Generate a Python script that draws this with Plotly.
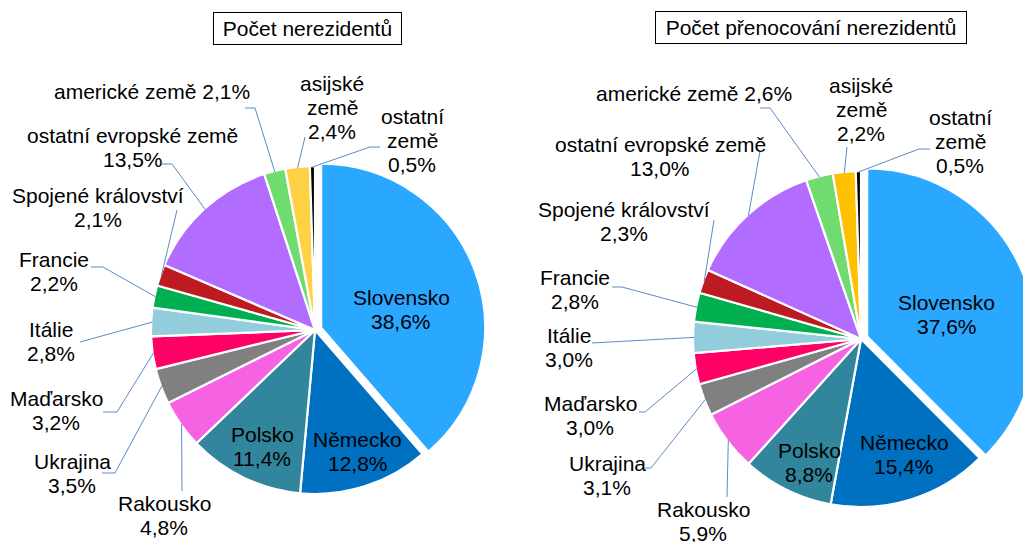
import math
import plotly.graph_objects as go

# ---------------- data ----------------
categories = ["Slovensko", "Německo", "Polsko", "Rakousko", "Ukrajina", "Maďarsko",
              "Itálie", "Francie", "Spojené království", "ostatní evropské země",
              "americké země", "asijské země", "ostatní země"]
nerezidenti = [38.6, 12.8, 11.4, 4.8, 3.5, 3.2, 2.8, 2.2, 2.1, 13.5, 2.1, 2.4, 0.5]
prenocovani = [37.6, 15.4, 8.8, 5.9, 3.1, 3.0, 3.0, 2.8, 2.3, 13.0, 2.6, 2.2, 0.5]
titles = ["Počet nerezidentů", "Počet přenocování nerezidentů"]

colors_left = ["#2AA7FE", "#0070C0", "#31859C", "#F563E2", "#808080", "#FF0066",
               "#92CDDC", "#00B050", "#BE1A22", "#B26CFF", "#70DC70", "#FFD246", "#000000"]
colors_right = ["#2AA7FE", "#0070C0", "#31859C", "#F563E2", "#808080", "#FF0066",
                "#92CDDC", "#00B050", "#BE1A22", "#B26CFF", "#70DC70", "#FFC000", "#000000"]

# ---------------- layout helpers (pixel space) ----------------
W, H = 1040, 542
FONT = "Liberation Sans, Arial, sans-serif"
FS = 21
LINE = 24
PULL = 0.04

pies = [
    dict(values=nerezidenti, colors=colors_left, cx=315, cy=330, r=164,
         title_pos=(307.2, 28.2), title_w=187,
         label_pos=[(401, 309), (357.5, 451), (262, 446.5), (164, 515.5), (72, 473),
                    (56, 410), (51, 341), (54, 271), (97.5, 207), (132.5, 147),
                    (151.5, 91.7), (332, 107), (412, 140)],
         leaders=[None, None, None, [(182, 491)], [(102, 473), (115, 473)],
                  [(103, 412), (117, 412)], [(80, 342)], [(91, 267), (103, 267)],
                  [(177, 210)], [(162, 164), (172, 164)], [(245, 108), (255, 108)],
                  [(305, 137)], [(380, 147), (370, 147)]]),
    dict(values=prenocovani, colors=colors_right, cx=861, cy=339, r=168,
         title_pos=(811, 27), title_w=310,
         label_pos=[(946.5, 314), (904, 454), (809, 462.5), (703, 521), (607, 475),
                    (590, 415), (569, 347), (575, 289.5), (624, 221), (660, 156),
                    (694, 93.5), (861, 109.5), (960, 141)],
         leaders=[None, None, None, [(727, 497)], [(645, 468), (651, 468)],
                  [(639, 412), (645, 412)], [(592, 343)], [(612, 287), (622, 287)],
                  [(714, 220)], [(760, 151)], [(760, 108), (770, 108)],
                  [(847, 147)], [(930, 149), (919, 149)]]),
]


def fmt(v):
    return f"{v:.1f}".replace(".", ",") + "%"


def label_lines(name, v):
    if name == "americké země":
        return [name + " " + fmt(v)]
    if name in ("asijské země", "ostatní země"):
        return name.split(" ") + [fmt(v)]
    return [name, fmt(v)]


fig = go.Figure()
annotations = []
shapes = []

for p in pies:
    half = p["r"] * (1 + PULL)
    dom_x = [(p["cx"] - half) / W, (p["cx"] + half) / W]
    dom_y = [1 - (p["cy"] + half) / H, 1 - (p["cy"] - half) / H]
    fig.add_trace(go.Pie(
        labels=categories, values=p["values"], sort=False, direction="clockwise",
        rotation=0, pull=[PULL] + [0] * (len(categories) - 1),
        marker=dict(colors=p["colors"], line=dict(color="white", width=2.2)),
        textinfo="none", hoverinfo="skip", showlegend=False,
        domain=dict(x=dom_x, y=dom_y),
    ))

    total = sum(p["values"])
    cum = 0.0
    for i, (name, v) in enumerate(zip(categories, p["values"])):
        theta = 2 * math.pi * (cum + v / 2) / total
        cum += v
        lines = label_lines(name, v)
        xc, yc = p["label_pos"][i]
        n = len(lines)
        for k, t in enumerate(lines):
            annotations.append(dict(
                x=xc, y=yc + (k - (n - 1) / 2) * LINE, xref="x", yref="y",
                text=t, showarrow=False, xanchor="center", yanchor="middle",
                font=dict(family=FONT, size=FS, color="#000000")))
        if p["leaders"][i]:
            ax = p["cx"] + (p["r"] - 1) * math.sin(theta)
            ay = p["cy"] - (p["r"] - 1) * math.cos(theta)
            pts = p["leaders"][i] + [(ax, ay)]
            path = "M " + " L ".join(f"{x:.1f},{y:.1f}" for x, y in pts)
            shapes.append(dict(type="path", path=path, xref="x", yref="y",
                               line=dict(color="#5A8AC6", width=1)))

    tx, ty = p["title_pos"]
    annotations.append(dict(
        x=tx, y=ty, xref="x", yref="y", text=titles[pies.index(p)], showarrow=False,
        xanchor="center", yanchor="middle", width=p["title_w"], height=31,
        bordercolor="#000000", borderwidth=1, borderpad=0, bgcolor="#FFFFFF",
        font=dict(family=FONT, size=FS, color="#000000")))

fig.update_layout(
    width=W, height=H, margin=dict(l=0, r=0, t=0, b=0),
    paper_bgcolor="#FFFFFF", plot_bgcolor="rgba(0,0,0,0)",
    xaxis=dict(range=[0, W], visible=False, domain=[0, 1], fixedrange=True),
    yaxis=dict(range=[H, 0], visible=False, domain=[0, 1], fixedrange=True),
    annotations=annotations, shapes=shapes, showlegend=False,
)

post = ("var gd=document.getElementById('{plot_id}');var p=gd.parentElement;"
        "document.body.style.margin='0';document.body.style.overflow='hidden';"
        "document.documentElement.style.overflow='hidden';"
        "p.style.width='1023px';p.style.height='542px';p.style.overflow='hidden';")
fig.write_html("out.html", config={"displayModeBar": False}, post_script=post)
